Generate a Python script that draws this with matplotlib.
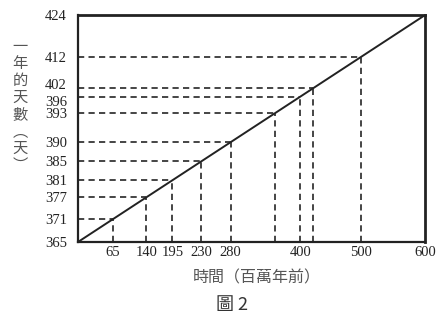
import numpy as np
import matplotlib.pyplot as plt
from matplotlib.transforms import ScaledTranslation

plt.rcParams['font.family'] = ['Liberation Serif', 'Noto Sans CJK TC']

# data: time (million years ago) vs days in a year
years = [65, 140, 195, 230, 280, 360, 400, 420, 500]
days = [371, 377, 381, 385, 390, 393, 396, 402, 412]
x_range = [0, 600]
y_range = [365, 424]
x_ticks = [65, 140, 195, 230, 280, 400, 500, 600]
y_ticks = [365] + days + [424]

# the original figure is schematic: ticks sit at hand-drawn positions along
# the diagonal, so both axes use the same piecewise scale (fraction of axis)
pos = [0, 0.100, 0.197, 0.272, 0.355, 0.440, 0.567, 0.641, 0.677, 0.815, 1.0]
x_knots = x_range[:1] + years + x_range[1:]
y_knots = y_range[:1] + days + y_range[1:]


def make_scale(knots):
    fwd = lambda v: np.interp(v, knots, pos)
    inv = lambda t: np.interp(t, pos, knots)
    return fwd, inv


fig = plt.figure(figsize=(4.46, 3.2), dpi=100)
ax = fig.add_axes([0.1749, 0.2438, 0.778, 0.709])
ax.set_xscale('function', functions=make_scale(x_knots))
ax.set_yscale('function', functions=make_scale(y_knots))
ax.set_xlim(x_range)
ax.set_ylim(y_range)

dash_kw = dict(color='#444444', linestyle=(0, (3.2, 2.2)), linewidth=1.4)
for x, y in zip(years, days):
    ax.plot([x_range[0], x], [y, y], **dash_kw)
    ax.plot([x, x], [y_range[0], y], **dash_kw)

ax.plot(x_range, y_range, color='#222222', linewidth=1.4)

ax.set_xticks(x_ticks)
ax.set_yticks(y_ticks)
ax.set_xticklabels([str(v) for v in x_ticks])
ax.set_yticklabels([str(v) for v in y_ticks])
ax.tick_params(length=0, labelsize=10.5, colors='#222222')
ax.tick_params(axis='x', pad=3)
ax.tick_params(axis='y', pad=8)

# 402 and 396 are close together: nudge their labels apart like the original
for lab in ax.get_yticklabels():
    if lab.get_text() == '402':
        lab.set_transform(lab.get_transform() + ScaledTranslation(0, 3 / 72, fig.dpi_scale_trans))
    elif lab.get_text() == '396':
        lab.set_transform(lab.get_transform() + ScaledTranslation(0, -3 / 72, fig.dpi_scale_trans))

for side in ['left', 'bottom']:
    ax.spines[side].set_linewidth(1.6)
for side in ['top', 'right']:
    ax.spines[side].set_linewidth(2.0)
for sp in ax.spines.values():
    sp.set_color('#222222')

cjk = ['Noto Sans CJK TC', 'DejaVu Sans']
fig.text(20 / 446, 1 - 106 / 320, '\n'.join('一年的天數︵天︶'), family=cjk,
         fontsize=11, color='#555555', ha='center', va='center',
         linespacing=1.0)
fig.text(257 / 446, 1 - 278 / 320, '時間（百萬年前）', family=cjk,
         fontsize=11.5, color='#555555', ha='center', va='center')
fig.text(232 / 446, 1 - 305 / 320, '圖 2', family=cjk,
         fontsize=13, color='#333333', ha='center', va='center')

fig.savefig('out.png', dpi=100)
